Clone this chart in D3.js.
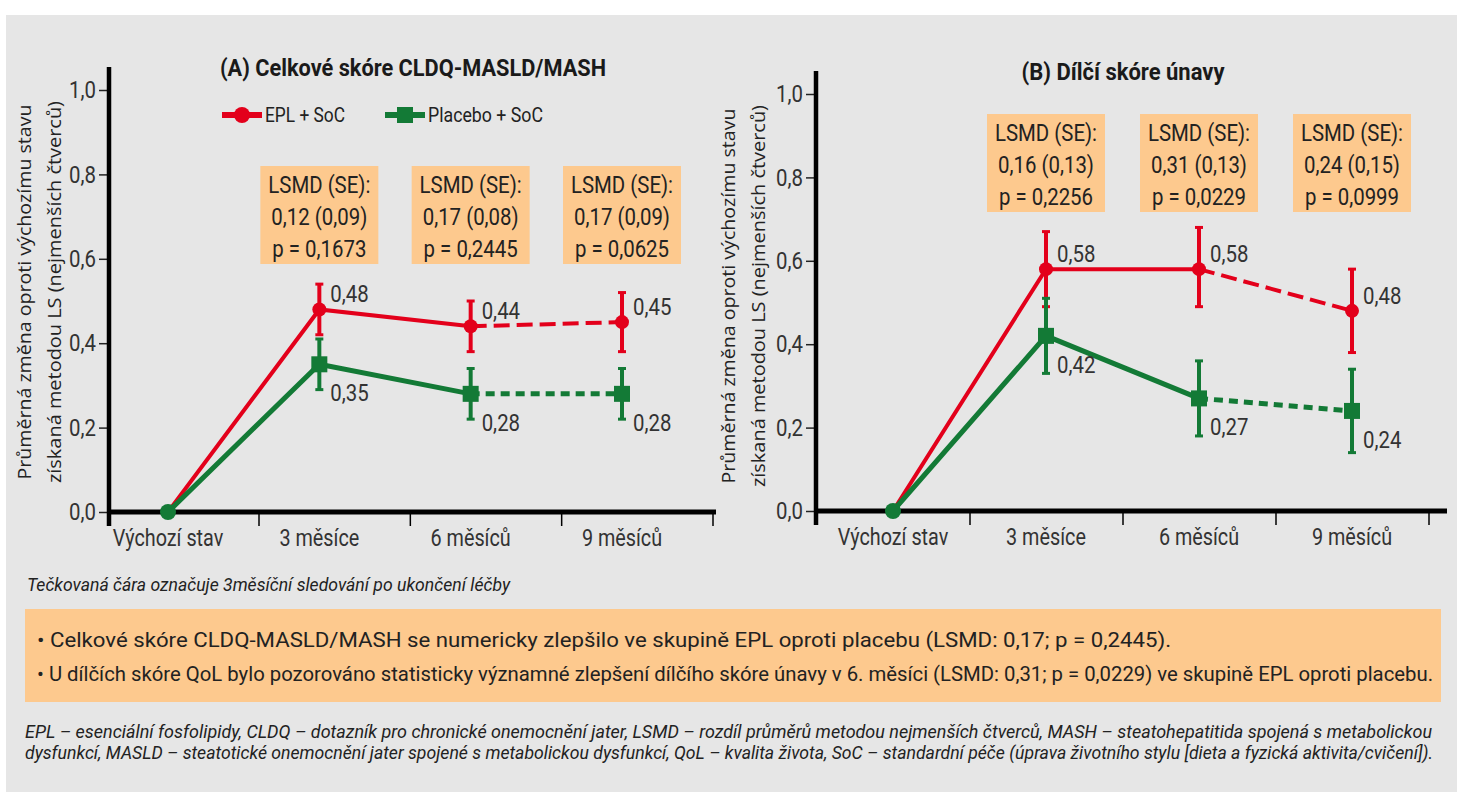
<!DOCTYPE html>
<html>
<head>
<meta charset="utf-8">
<script src="https://cdn.jsdelivr.net/npm/d3@7"></script>
<style>
  body { margin: 0; background: #fff; }
  svg { display: block; }
  .cond { font-family: Roboto, "DejaVu Sans", sans-serif; }
  .wide { font-family: "Open Sans", "Noto Sans", sans-serif; }
</style>
</head>
<body>
<svg id="chart" width="1466" height="800"></svg>
<script>
// categories and ticks
var categories = ["Výchozí stav", "3 měsíce", "6 měsíců", "9 měsíců"];
var yTicks = [0, 0.2, 0.4, 0.6, 0.8, 1.0];

// (A) Celkové skóre CLDQ-MASLD/MASH
var eplA = [0, 0.48, 0.44, 0.45];
var eplLoA = [0, 0.42, 0.38, 0.38];
var eplHiA = [0, 0.54, 0.50, 0.52];
var plaA = [0, 0.35, 0.28, 0.28];
var plaLoA = [0, 0.29, 0.22, 0.22];
var plaHiA = [0, 0.41, 0.34, 0.34];
var lsmdA = [
  ["LSMD (SE):", "0,12 (0,09)", "p = 0,1673"],
  ["LSMD (SE):", "0,17 (0,08)", "p = 0,2445"],
  ["LSMD (SE):", "0,17 (0,09)", "p = 0,0625"]
];

// (B) Dílčí skóre únavy
var eplB = [0, 0.58, 0.58, 0.48];
var eplLoB = [0, 0.49, 0.49, 0.38];
var eplHiB = [0, 0.67, 0.68, 0.58];
var plaB = [0, 0.42, 0.27, 0.24];
var plaLoB = [0, 0.33, 0.18, 0.14];
var plaHiB = [0, 0.51, 0.36, 0.34];
var lsmdB = [
  ["LSMD (SE):", "0,16 (0,13)", "p = 0,2256"],
  ["LSMD (SE):", "0,31 (0,13)", "p = 0,0229"],
  ["LSMD (SE):", "0,24 (0,15)", "p = 0,0999"]
];

var legendNames = ["EPL + SoC", "Placebo + SoC"];
var yTitle = ["Průměrná změna oproti výchozímu stavu", "získaná metodou LS (nejmenších čtverců)"];
var footnote = "Tečkovaná čára označuje 3měsíční sledování po ukončení léčby";
var bullets = [
  "• Celkové skóre CLDQ-MASLD/MASH se numericky zlepšilo ve skupině EPL oproti placebu (LSMD: 0,17; p = 0,2445).",
  "• U dílčích skóre QoL bylo pozorováno statisticky významné zlepšení dílčího skóre únavy v 6. měsíci (LSMD: 0,31; p = 0,0229) ve skupině EPL oproti placebu."
];
var abbrev = [
  "EPL – esenciální fosfolipidy, CLDQ – dotazník pro chronické onemocnění jater, LSMD – rozdíl průměrů metodou nejmenších čtverců, MASH – steatohepatitida spojená s metabolickou",
  "dysfunkcí, MASLD – steatotické onemocnění jater spojené s metabolickou dysfunkcí, QoL – kvalita života, SoC – standardní péče (úprava životního stylu [dieta a fyzická aktivita/cvičení])."
];

var RED = "#e3001b", GREEN = "#137a36", ORANGE = "#fdc98e", GRAY = "#e6e6e6";

var svg = d3.select("#chart");
svg.append("rect").attr("x", 6).attr("y", 15).attr("width", 1451).attr("height", 777).attr("fill", GRAY);

function fmt(v) { return d3.format(".2f")(v).replace(".", ","); }

// narrow a text to look like a condensed face
function squeeze(sel, k) {
  sel.each(function() {
    var w = this.getComputedTextLength();
    d3.select(this).attr("textLength", w * k).attr("lengthAdjust", "spacingAndGlyphs");
  });
}

function drawPanel(opt) {
  var g = svg.append("g");
  var x = d3.scalePoint().domain(categories).range(opt.xRange);
  var y = d3.scaleLinear().domain([0, 1]).range(opt.yRange);

  // title
  g.append("text").attr("class", "cond")
    .attr("x", opt.titleX).attr("y", opt.yRange[1] - 14)
    .attr("text-anchor", "middle")
    .attr("font-size", 23).attr("font-weight", "bold").attr("fill", "#1a1a1a")
    .attr("textLength", opt.titleW).attr("lengthAdjust", "spacingAndGlyphs")
    .text(opt.title);

  // y axis title
  var yt = g.append("g").attr("transform", "translate(" + opt.yTitleX + "," + opt.yTitleY + ") rotate(-90)");
  yTitle.forEach(function(t, i) {
    yt.append("text").attr("class", "wide")
      .attr("x", 0).attr("y", i * 30)
      .attr("text-anchor", "middle").attr("font-size", 19).attr("fill", "#222")
      .attr("textLength", i == 0 ? 375 : 382).attr("lengthAdjust", "spacingAndGlyphs")
      .text(t);
  });

  // y axis
  var yAxis = d3.axisLeft(y).tickValues(yTicks).tickSize(10).tickPadding(3)
    .tickFormat(function(d) { return d3.format(".1f")(d).replace(".", ","); });
  var ya = g.append("g").attr("transform", "translate(" + opt.x0 + ",0)").call(yAxis);
  ya.select(".domain").remove();
  ya.selectAll(".tick line").attr("stroke", "#222").attr("stroke-width", 1.5);
  ya.selectAll(".tick text").attr("class", "cond").attr("font-family", null)
    .attr("font-size", 24).attr("fill", "#333").call(squeeze, 0.85);
  g.append("line").attr("x1", opt.x0).attr("x2", opt.x0)
    .attr("y1", opt.yRange[1] - 23).attr("y2", y(0) + 14)
    .attr("stroke", "#000").attr("stroke-width", 4.5);

  // x axis
  g.append("line").attr("x1", opt.x0).attr("x2", opt.xEnd)
    .attr("y1", y(0)).attr("y2", y(0))
    .attr("stroke", "#000").attr("stroke-width", 5);
  g.selectAll(".xtick").data(categories).enter().append("line")
    .attr("x1", function(d) { return x(d) + opt.tickOff; })
    .attr("x2", function(d) { return x(d) + opt.tickOff; })
    .attr("y1", y(0)).attr("y2", y(0) + 14)
    .attr("stroke", "#000").attr("stroke-width", 1.5);
  g.selectAll(".xlab").data(categories).enter().append("text")
    .attr("class", "cond")
    .attr("x", function(d) { return x(d); }).attr("y", y(0) + 34)
    .attr("text-anchor", "middle").attr("font-size", 23).attr("fill", "#333")
    .text(function(d) { return d; })
    .call(squeeze, 0.86);

  // LSMD boxes
  opt.lsmd.forEach(function(lines, i) {
    var cx = x(categories[i + 1]);
    g.append("rect").attr("x", cx - 59).attr("y", opt.boxY).attr("width", 118).attr("height", 98)
      .attr("fill", ORANGE);
    lines.forEach(function(t, j) {
      g.append("text").attr("class", "cond")
        .attr("x", cx).attr("y", opt.boxY + 27 + j * 32)
        .attr("text-anchor", "middle").attr("font-size", 24).attr("fill", "#222")
        .text(t)
        .call(squeeze, 0.85);
    });
  });

  var series = [
    { v: opt.epl, lo: opt.eplLo, hi: opt.eplHi, color: RED, w: 4, dash: "16,7", labDy: -7, sym: "circle" },
    { v: opt.pla, lo: opt.plaLo, hi: opt.plaHi, color: GREEN, w: 5, dash: "9,6", labDy: 37, sym: "square" }
  ];

  // lines: solid during treatment, dashed for follow-up
  series.forEach(function(s) {
    var path = d3.line().x(function(i) { return x(categories[i]); }).y(function(i) { return y(s.v[i]); });
    g.append("path").datum([0, 1, 2]).attr("d", path)
      .attr("fill", "none").attr("stroke", s.color).attr("stroke-width", s.w);
    g.append("path").datum([2, 3]).attr("d", path)
      .attr("fill", "none").attr("stroke", s.color).attr("stroke-width", s.w)
      .attr("stroke-dasharray", s.dash);
  });

  // error bars, markers, labels
  series.forEach(function(s) {
    for (var i = 1; i < categories.length; i++) {
      var cx = x(categories[i]);
      g.append("line").attr("x1", cx).attr("x2", cx)
        .attr("y1", y(s.lo[i])).attr("y2", y(s.hi[i]))
        .attr("stroke", s.color).attr("stroke-width", 4);
      [s.lo[i], s.hi[i]].forEach(function(e) {
        g.append("line").attr("x1", cx - 4).attr("x2", cx + 4)
          .attr("y1", y(e)).attr("y2", y(e))
          .attr("stroke", s.color).attr("stroke-width", 3);
      });
      if (s.sym == "circle") {
        g.append("circle").attr("cx", cx).attr("cy", y(s.v[i])).attr("r", 7).attr("fill", s.color);
      } else {
        g.append("rect").attr("x", cx - 8).attr("y", y(s.v[i]) - 8).attr("width", 16).attr("height", 16)
          .attr("fill", s.color);
      }
      g.append("text").attr("class", "cond")
        .attr("x", cx + 11).attr("y", y(s.v[i]) + s.labDy)
        .attr("font-size", 24).attr("fill", "#333")
        .text(fmt(s.v[i]))
        .call(squeeze, 0.85);
    }
  });
  // baseline marker
  g.append("circle").attr("cx", x(categories[0])).attr("cy", y(0)).attr("r", 8).attr("fill", GREEN);
}

drawPanel({
  title: "(A) Celkové skóre CLDQ-MASLD/MASH", titleX: 413, titleW: 386,
  x0: 109, xEnd: 716, xRange: [168, 622], yRange: [512, 90], tickOff: 91,
  yTitleX: 31, yTitleY: 292, boxY: 166,
  epl: eplA, eplLo: eplLoA, eplHi: eplHiA, pla: plaA, plaLo: plaLoA, plaHi: plaHiA, lsmd: lsmdA
});
drawPanel({
  title: "(B) Dílčí skóre únavy", titleX: 1123, titleW: 203,
  x0: 816, xEnd: 1447, xRange: [893, 1352], yRange: [511, 94], tickOff: 77,
  yTitleX: 735, yTitleY: 296, boxY: 114,
  epl: eplB, eplLo: eplLoB, eplHi: eplHiB, pla: plaB, plaLo: plaLoB, plaHi: plaHiB, lsmd: lsmdB
});

// legend (panel A)
var leg = svg.append("g");
[{ x: 222, c: RED, s: "circle", w: 80 }, { x: 385, c: GREEN, s: "square", w: 115 }].forEach(function(l, i) {
  leg.append("line").attr("x1", l.x).attr("x2", l.x + 40).attr("y1", 115).attr("y2", 115)
    .attr("stroke", l.c).attr("stroke-width", 6);
  if (l.s == "circle")
    leg.append("circle").attr("cx", l.x + 20).attr("cy", 115).attr("r", 8).attr("fill", l.c);
  else
    leg.append("rect").attr("x", l.x + 12).attr("y", 107).attr("width", 16).attr("height", 16).attr("fill", l.c);
  leg.append("text").attr("class", "cond")
    .attr("x", l.x + 43).attr("y", 122).attr("font-size", 21).attr("fill", "#222")
    .attr("textLength", l.w).attr("lengthAdjust", "spacingAndGlyphs")
    .text(legendNames[i]);
});

// footnote
svg.append("text").attr("class", "cond")
  .attr("x", 27).attr("y", 591).attr("font-size", 19).attr("font-style", "italic").attr("fill", "#222")
  .attr("textLength", 483).attr("lengthAdjust", "spacingAndGlyphs")
  .text(footnote);

// conclusions box
svg.append("rect").attr("x", 25).attr("y", 609).attr("width", 1416).attr("height", 93).attr("fill", ORANGE);
[1134, 1396].forEach(function(w, i) {
  svg.append("text").attr("class", "cond")
    .attr("x", 37).attr("y", 647 + i * 34).attr("font-size", 19.5).attr("fill", "#222")
    .attr("textLength", w).attr("lengthAdjust", "spacingAndGlyphs")
    .text(bullets[i]);
});

// abbreviations
[1407, 1408].forEach(function(w, i) {
  svg.append("text").attr("class", "cond")
    .attr("x", 25).attr("y", 738 + i * 21).attr("font-size", 18).attr("font-style", "italic").attr("fill", "#222")
    .attr("textLength", w).attr("lengthAdjust", "spacingAndGlyphs")
    .text(abbrev[i]);
});
</script>
</body>
</html>
